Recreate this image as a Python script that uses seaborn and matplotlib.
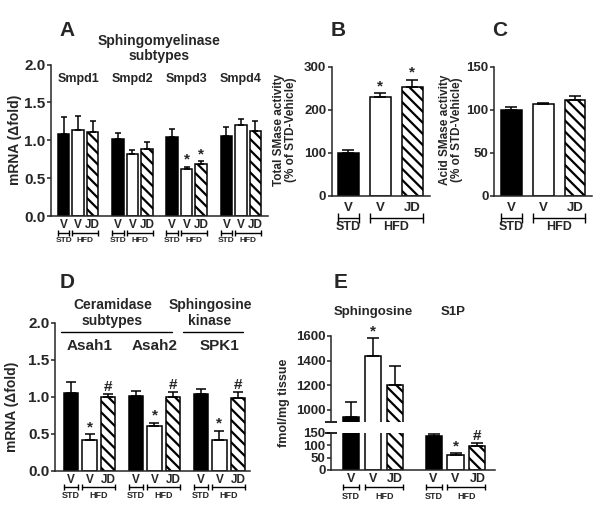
import numpy as np
import pandas as pd
import seaborn as sns
import matplotlib.pyplot as plt
from matplotlib.transforms import ScaledTranslation

# ---- DATA ----
groups = ["STD-V", "HFD-V", "HFD-JD"]
group_ticks = ["V", "V", "JD"]

# A: sphingomyelinase subtypes (mRNA fold)
smpd_genes = ["Smpd1", "Smpd2", "Smpd3", "Smpd4"]
smpd_mean = [[1.08, 1.14, 1.11], [1.02, 0.82, 0.89], [1.04, 0.62, 0.68], [1.05, 1.20, 1.12]]
smpd_sem = [[0.23, 0.18, 0.15], [0.07, 0.05, 0.09], [0.11, 0.03, 0.04], [0.13, 0.08, 0.14]]
smpd_marks = [["", "", ""], ["", "", ""], ["", "*", "*"], ["", "", ""]]

# B: total SMase activity
total_mean = [[100, 230, 253]]
total_sem = [[6, 9, 17]]
total_marks = [["", "*", "*"]]

# C: acid SMase activity
acid_mean = [[100, 107, 111]]
acid_sem = [[3, 1, 5]]
acid_marks = [["", "", ""]]

# D: ceramidase / sphingosine kinase
cer_genes = ["Asah1", "Asah2", "SPK1"]
cer_mean = [[1.05, 0.41, 0.99], [1.01, 0.60, 1.00], [1.04, 0.42, 0.98]]
cer_sem = [[0.15, 0.08, 0.05], [0.07, 0.05, 0.07], [0.06, 0.12, 0.09]]
cer_marks = [["", "*", "#"], ["", "*", "#"], ["", "*", "#"]]

# E: sphingosine and S1P
lipids = ["Sphingosine", "S1P"]
lipid_mean = [[945, 1435, 1200], [135, 60, 95]]
lipid_sem = [[120, 145, 160], [10, 8, 12]]
lipid_marks = [["", "*", ""], ["", "*", "#"]]

fills = ["black", "white", "white"]
hatches = ["", "", "\\\\\\"]

sns.set_style("ticks")
plt.rcParams["font.family"] = ["Liberation Sans", "DejaVu Sans"]
plt.rcParams["font.weight"] = "bold"
plt.rcParams["axes.labelweight"] = "bold"
plt.rcParams["axes.linewidth"] = 1.1
plt.rcParams["ytick.major.width"] = 1.1
plt.rcParams["ytick.major.size"] = 3
plt.rcParams["ytick.major.pad"] = 1
plt.rcParams["hatch.linewidth"] = 1.6

W, H = 600, 508
fig = plt.figure(figsize=(6, 5.08), dpi=100)


def rect(l, t, r, b):
    return [l / W, 1 - b / H, (r - l) / W, (b - t) / H]


def long_df(genes, means, sems):
    rows = []
    for g, m, s in zip(genes, means, sems):
        for grp, mv, sv in zip(groups, m, s):
            rows.append({"gene": g, "group": grp, "mean": mv, "sem": sv})
    return pd.DataFrame(rows)


def under(ax, dy):
    # dy pixels below the x axis
    return ax.get_xaxis_transform() + ScaledTranslation(0, -dy / 100, fig.dpi_scale_trans)


def bar_panel(ax, genes, means, sems, marks, width, gap, capsize, markfs=11):
    df = long_df(genes, means, sems)
    sns.barplot(data=df, x="gene", y="mean", hue="group", hue_order=groups,
                palette=fills, width=width, gap=gap, errorbar=None,
                legend=False, ax=ax, zorder=2)
    bars = []
    for i, cont in enumerate(ax.containers):
        for b in cont:
            b.set_facecolor(fills[i])
            b.set_edgecolor("black")
            b.set_linewidth(1.1)
            b.set_hatch(hatches[i])
        bars.append(list(cont))
    # bars[group][gene] -> by_gene[gene][group]
    by_gene = [[bars[i][j] for i in range(3)] for j in range(len(genes))]
    for j, row in enumerate(by_gene):
        xs = [b.get_x() + b.get_width() / 2 for b in row]
        tops = [b.get_height() for b in row]
        ax.errorbar(xs, tops, yerr=[np.zeros(3), sems[j]], fmt="none", ecolor="black",
                    elinewidth=1.1, capsize=capsize, capthick=1.1, zorder=3)
        for x, t, s, m in zip(xs, tops, sems[j], marks[j]):
            if m:
                ax.annotate(m, (x, t + s), xytext=(0, 0), textcoords="offset points",
                            ha="center", va="bottom", fontsize=markfs, fontweight="bold")
    ax.set_xlabel("")
    ax.set_ylabel("")
    sns.despine(ax=ax)
    ax.tick_params(axis="x", length=0)
    return by_gene


def group_axis(ax, by_gene, tickfs, pad, dy_br, dy_txt, txtfs, ms):
    centers, labels = [], []
    for row in by_gene:
        for b, lab in zip(row, group_ticks):
            centers.append(b.get_x() + b.get_width() / 2)
            labels.append(lab)
        a0, a1 = row[0].get_x(), row[0].get_x() + row[0].get_width()
        h0, h1 = row[1].get_x(), row[2].get_x() + row[2].get_width()
        for (a, b_), txt in [((a0, a1), "STD"), ((h0, h1), "HFD")]:
            ax.plot([a, b_], [0, 0], transform=under(ax, dy_br), color="black", lw=1,
                    marker="|", ms=ms, mew=1, clip_on=False)
            ax.text((a + b_) / 2, 0, txt, transform=under(ax, dy_txt), ha="center",
                    va="center", fontsize=txtfs, fontweight="bold")
    ax.set_xticks(centers, labels)
    ax.tick_params(axis="x", labelsize=tickfs, pad=pad)


# ---- A ----
axA = fig.add_axes(rect(51, 64.5, 268, 216))
bgA = bar_panel(axA, smpd_genes, smpd_mean, smpd_sem, smpd_marks, 0.8, 0.2, 2.5)
axA.set_ylim(0, 2.0)
axA.set_xlim(-0.5, 3.5)
axA.set_yticks([0, 0.5, 1.0, 1.5, 2.0], ["0.0", "0.5", "1.0", "1.5", "2.0"])
axA.tick_params(axis="y", labelsize=11)
group_axis(axA, bgA, 8.5, 2.5, 16.7, 24.7, 6, 4)
for j, g in enumerate(smpd_genes):
    axA.text(j, 0.905, g, transform=axA.get_xaxis_transform(), ha="center", va="center",
             fontsize=9)
axA.text(0.5, 1.106, "Sphingomyelinase\nsubtypes", transform=axA.transAxes, ha="center",
         va="center", fontsize=10, linespacing=1.15)

# ---- B ----
axB = fig.add_axes(rect(331.7, 66.7, 430, 196))
bgB = bar_panel(axB, [""], total_mean, total_sem, total_marks, 1.0, 0.34, 4.3)
axB.set_ylim(0, 300)
axB.set_xlim(-0.508, 0.521)
axB.set_yticks([0, 100, 200, 300])
axB.tick_params(axis="y", labelsize=9.5)
group_axis(axB, bgB, 9.5, 4.5, 21.7, 30.7, 9, 7)

# ---- C ----
axC = fig.add_axes(rect(494, 66.7, 592, 196))
bgC = bar_panel(axC, [""], acid_mean, acid_sem, acid_marks, 1.0, 0.34, 4.2)
axC.set_ylim(0, 150)
axC.set_xlim(-0.517, 0.512)
axC.set_yticks([0, 50, 100, 150])
axC.tick_params(axis="y", labelsize=9.5)
group_axis(axC, bgC, 9.5, 4.5, 21.7, 30.7, 9, 7)

# ---- D ----
axD = fig.add_axes(rect(55, 322.7, 250, 470.7))
bgD = bar_panel(axD, cer_genes, cer_mean, cer_sem, cer_marks, 0.85, 0.23, 3.6)
axD.set_ylim(0, 2.0)
axD.set_xlim(-0.531, 2.47)
axD.set_yticks([0, 0.5, 1.0, 1.5, 2.0], ["0.0", "0.5", "1.0", "1.5", "2.0"])
axD.tick_params(axis="y", labelsize=11)
group_axis(axD, bgD, 8.5, 2.5, 16.3, 25.3, 6.5, 4)
for j, g in enumerate(cer_genes):
    axD.text(j, 0.843, g, transform=axD.get_xaxis_transform(), ha="center", va="center",
             fontsize=11)
axD.plot([0.031, 0.600], [0.937, 0.937], transform=axD.transAxes, color="black", lw=1,
         clip_on=False)
axD.plot([0.656, 0.964], [0.937, 0.937], transform=axD.transAxes, color="black", lw=1,
         clip_on=False)
axD.text(0.294, 1.066, "Ceramidase\nsubtypes", transform=axD.transAxes, ha="center",
         va="center", fontsize=10, linespacing=1.15)
axD.text(0.795, 1.066, "Sphingosine\nkinase", transform=axD.transAxes, ha="center",
         va="center", fontsize=10, linespacing=1.15)

# ---- E (broken axis) ----
axEu = fig.add_axes(rect(331, 336, 495, 422.3))
axEl = fig.add_axes(rect(331, 432.7, 495, 470))
bar_panel(axEu, lipids, lipid_mean, lipid_sem, lipid_marks, 0.8, 0.27, 4.2)
bgE = bar_panel(axEl, lipids, lipid_mean, lipid_sem, lipid_marks, 0.8, 0.27, 4.2)
axEu.set_ylim(900, 1600)
axEu.set_yticks([1000, 1200, 1400, 1600])
axEl.set_ylim(0, 150)
axEl.set_yticks([0, 50, 100, 150])
for ax in (axEu, axEl):
    ax.set_xlim(-0.513, 1.48)
    ax.tick_params(axis="y", labelsize=9.5)
axEu.spines["bottom"].set_visible(False)
axEu.set_xticks([])
axEu.plot([0], [0], marker="_", ms=9, mew=1.2, color="black", transform=axEu.transAxes,
          clip_on=False)
axEl.plot([0], [1], marker="_", ms=9, mew=1.2, color="black", transform=axEl.transAxes,
          clip_on=False)
group_axis(axEl, bgE, 9, 2.5, 17, 26.7, 6.5, 4)
axEu.text(0.26, 1.278, "Sphingosine", transform=axEu.transAxes, ha="center", va="center",
          fontsize=9.5)
axEu.text(0.745, 1.278, "S1P", transform=axEu.transAxes, ha="center", va="center",
          fontsize=9.5)

# ---- y labels and panel letters ----
def ftext(x, y, s, **kw):
    fig.text(x / W, 1 - y / H, s, ha="center", va="center", fontweight="bold", **kw)

ftext(15, 140, "mRNA (\u0394fold)", rotation=90, fontsize=10)
ftext(285, 130, "Total SMase activity\n(% of STD-Vehicle)", rotation=90, fontsize=8.5,
      linespacing=1.0)
ftext(451, 130, "Acid SMase activity\n(% of STD-Vehicle)", rotation=90, fontsize=8.5,
      linespacing=1.0)
ftext(12, 407, "mRNA (\u0394fold)", rotation=90, fontsize=10)
ftext(284, 403, "fmol/mg tissue", rotation=90, fontsize=9)

for lx, ly, letter in [(67, 30, "A"), (338, 30, "B"), (500, 30, "C"), (67, 283, "D"),
                       (341, 283, "E")]:
    ftext(lx, ly, letter, fontsize=15)

plt.savefig("out.png", dpi=100)
